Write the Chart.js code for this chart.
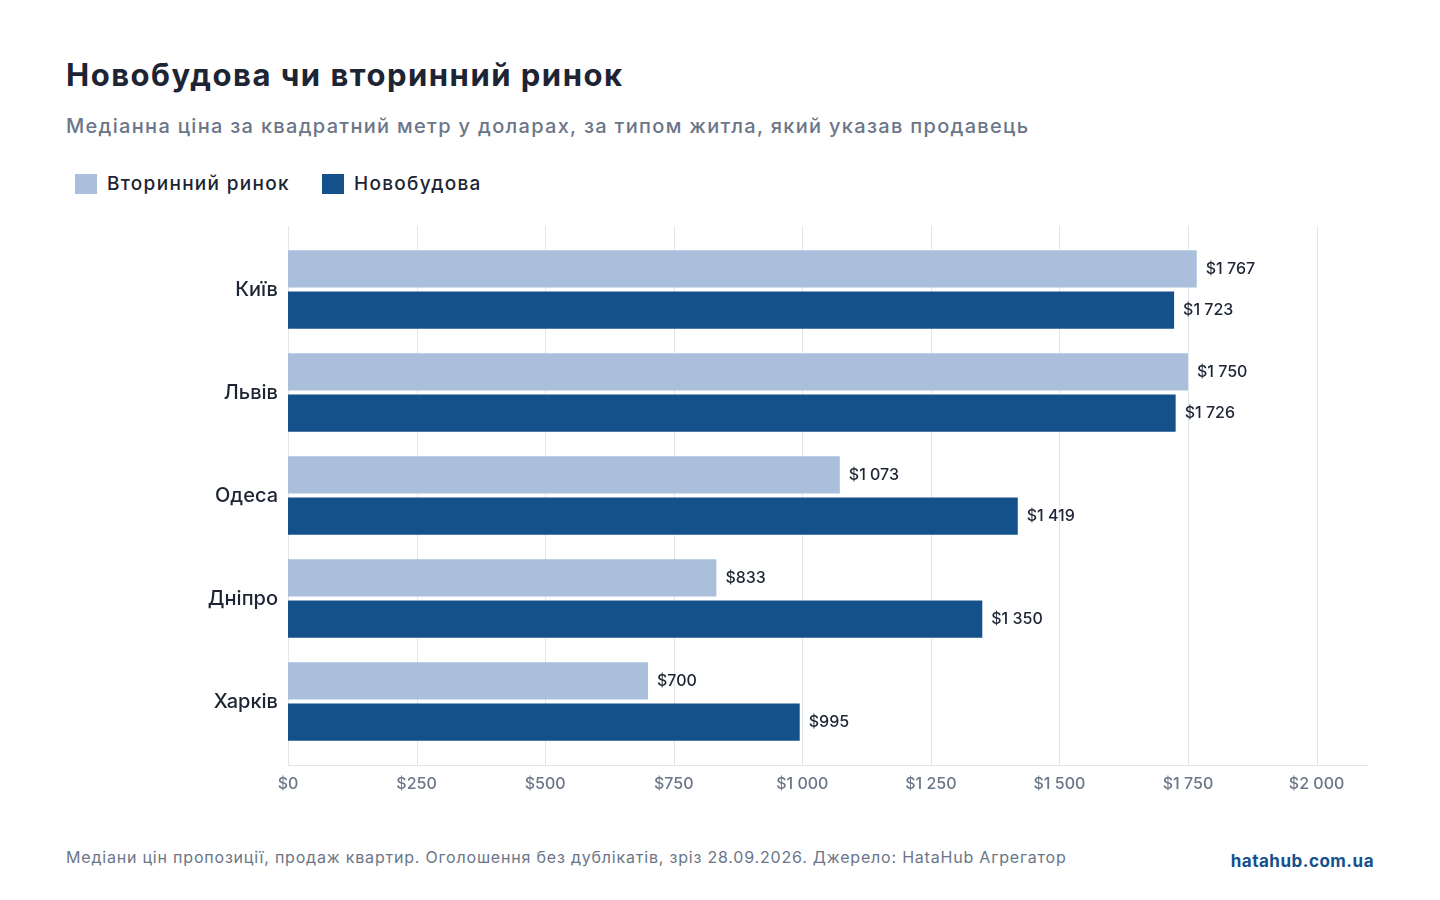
<!DOCTYPE html>
<html><head><meta charset="utf-8">
<script src="https://cdn.jsdelivr.net/npm/chart.js@4"></script>
<style>
body{margin:0;width:1440px;height:900px;background:#fff;font-family:Inter,sans-serif;position:relative;overflow:hidden}
.t{position:absolute;left:66px;top:56px;font-size:31px;font-weight:700;color:#1d2433;letter-spacing:1.5px}
.s{position:absolute;left:66px;top:114px;font-size:20px;font-weight:500;color:#6b7688;letter-spacing:1.3px}
.lg{position:absolute;top:172px;font-size:19px;font-weight:500;color:#1d2433;display:flex;align-items:center;letter-spacing:1.3px}
.lg i{display:inline-block;width:22px;height:20px;margin-right:10px}
.f{position:absolute;left:66px;top:847px;font-size:16px;color:#6b7688;letter-spacing:0.8px}
.b{position:absolute;right:66px;top:851px;font-size:17px;font-weight:700;color:#14508a;letter-spacing:0.5px}
#w{position:absolute;left:0;top:210px;width:1440px;height:595px}
</style></head><body>
<div class="t">Новобудова чи вторинний ринок</div>
<div class="s">Медіанна ціна за квадратний метр у доларах, за типом житла, який указав продавець</div>
<div class="lg" style="left:75px"><i style="background:#a9bfdc"></i>Вторинний ринок</div>
<div class="lg" style="left:322px"><i style="background:#14508a"></i>Новобудова</div>
<div id="w"><canvas id="c"></canvas></div>
<div class="f">Медіани цін пропозиції, продаж квартир. Оголошення без дублікатів, зріз 28.09.2026. Джерело: HataHub Агрегатор</div>
<div class="b">hatahub.com.ua</div>
<script>
const cities=["Київ","Львів","Одеса","Дніпро","Харків"];
const secondary=[1767,1750,1073,833,700];
const newBuild=[1723,1726,1419,1350,995];
const tickValues=[0,250,500,750,1000,1250,1500,1750,2000];
const fmt=v=>"$"+String(v).replace(/\B(?=(\d{3})+(?!\d))/g," ");
const grid={id:"grid",beforeDatasetsDraw(ch){const c=ch.ctx,a=ch.chartArea,x=ch.scales.x;c.save();c.strokeStyle="#dfe6ec";c.lineWidth=1;
tickValues.forEach(v=>{const px=Math.round(x.getPixelForValue(v))+0.5;c.beginPath();c.moveTo(px,a.top-12);c.lineTo(px,a.bottom+12);c.stroke();});
c.beginPath();c.moveTo(a.left,a.bottom+12.5);c.lineTo(a.right,a.bottom+12.5);c.stroke();c.restore();}};
const labels={id:"lbl",afterDatasetsDraw(ch){const c=ch.ctx;c.save();c.font="500 16px Inter";c.fillStyle="#1d2433";c.textBaseline="middle";
ch.data.datasets.forEach((d,i)=>ch.getDatasetMeta(i).data.forEach((b,j)=>c.fillText(fmt(d.data[j]),b.x+9,b.y)));c.restore();}};
const cv=document.getElementById("c");
new Chart(cv,{type:"bar",
data:{labels:cities,datasets:[
{label:"Вторинний ринок",data:secondary,backgroundColor:"#a9bfdc",categoryPercentage:0.8,barPercentage:0.9},
{label:"Новобудова",data:newBuild,backgroundColor:"#14508a",categoryPercentage:0.8,barPercentage:0.9}]},
options:{indexAxis:"y",responsive:true,maintainAspectRatio:false,animation:false,
layout:{padding:{left:0,right:72,top:28,bottom:0}},
plugins:{legend:{display:false},tooltip:{enabled:false}},
scales:{
x:{min:0,max:2100,afterBuildTicks:s=>{s.ticks=tickValues.map(v=>({value:v}))},
afterFit:s=>{s.height=52},
grid:{display:false},border:{display:false},
ticks:{callback:v=>fmt(v),color:"#6b7688",font:{family:"Inter",size:16,weight:500},padding:14}},
y:{afterFit:s=>{s.width=288},grid:{display:false},border:{display:false},
ticks:{color:"#1d2433",font:{family:"Inter",size:20,weight:500},padding:2}}}},
plugins:[grid,labels]});
</script></body></html>
